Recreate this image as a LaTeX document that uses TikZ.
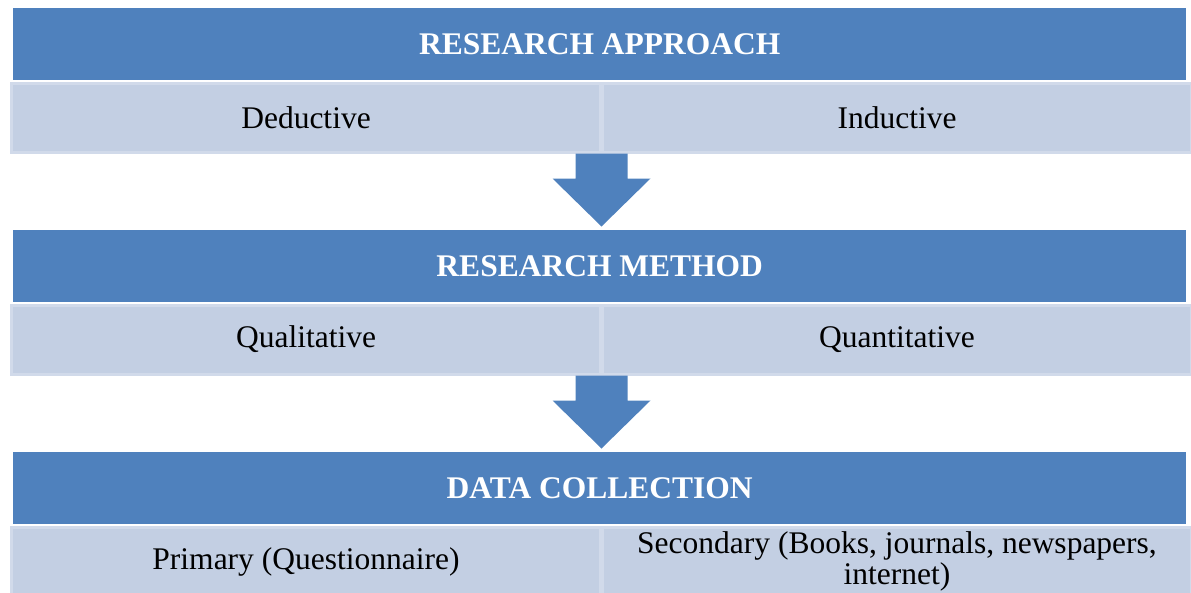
\documentclass[tikz,border=0pt]{standalone}
\usepackage{fontspec}
\setmainfont{Liberation Serif}
\usetikzlibrary{positioning}
\usetikzlibrary{calc}

\definecolor{headblue}{HTML}{4F81BD}
\definecolor{rowblue}{HTML}{C3CFE3}
\definecolor{rowedge}{HTML}{D1DAEA}

\tikzset{
  headbar/.style={fill=headblue, draw=none, text=white, inner sep=0pt,
    minimum width=1173pt, minimum height=72pt, anchor=north west,
    font=\fontsize{31.5}{34}\selectfont\bfseries},
  cellbox/.style={fill=rowblue, draw=rowedge, line width=3pt, inner sep=0pt,
    minimum width=589pt, minimum height=69pt, anchor=north west, align=center,
    font=\fontsize{31.5}{31}\selectfont},
  pics/blockarrow/.style={code={
    \fill[headblue] (-26,0) -- (26,0) -- (26,25) -- (49,25) -- (0,73)
      -- (-49,25) -- (-26,25) -- cycle;}}
}

\begin{document}
\begin{tikzpicture}[x=1pt,y=-1pt]
  \useasboundingbox (0,0) rectangle (1191,592);

  % approach
  \node[headbar] (apprhead) at (13,8) {RESEARCH APPROACH};
  \node[cellbox] (deductive) at (10,81.5) {Deductive};
  \node[cellbox] (inductive) at (601,81.5) {Inductive};
  \pic at ($(deductive.south east)!.5!(inductive.south west)$) {blockarrow};

  % method
  \node[headbar] (methhead) at (13,230) {RESEARCH METHOD};
  \node[cellbox] (qual) at (10,303.5) {Qualitative};
  \node[cellbox] (quant) at (601,303.5) {Quantitative};
  \pic at ($(qual.south east)!.5!(quant.south west)$) {blockarrow};

  % data collection
  \node[headbar] (datahead) at (13,452) {DATA COLLECTION};
  \node[cellbox] (primary) at (10,525.5) {Primary (Questionnaire)};
  \node[cellbox] (secondary) at (601,525.5) {Secondary (Books, journals, newspapers,\\ internet)};
\end{tikzpicture}
\end{document}
